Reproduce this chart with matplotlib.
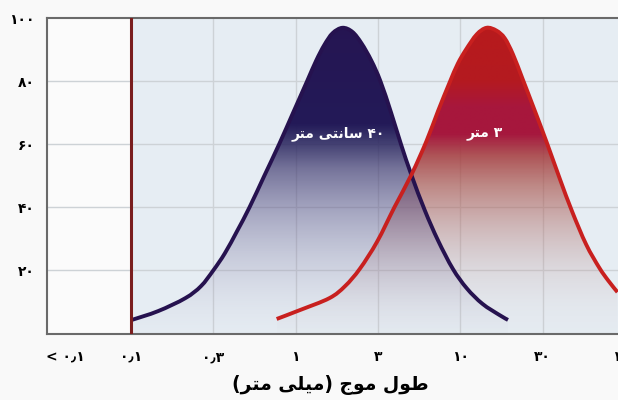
import numpy as np
import matplotlib
matplotlib.use("Agg")
from matplotlib import pyplot as plt
from matplotlib.colors import to_rgb
from matplotlib.path import Path
from matplotlib.patches import PathPatch

# x positions are category slots: 1 = 0.1 mm, 2 = 0.3 mm, 3 = 1 mm, ... 7 = 100 mm
x_labels = ["< \u06f0\u066b\u06f1", "\u06f0\u066b\u06f1", "\u06f0\u066b\u06f3", "\u06f1", "\u06f3",
            "\u06f1\u06f0", "\u06f3\u06f0", "\u06f1\u06f0\u06f0"]
y_ticks = [20, 40, 60, 80, 100]
y_labels = ["\u06f2\u06f0", "\u06f4\u06f0", "\u06f6\u06f0", "\u06f8\u06f0", "\u06f1\u06f0\u06f0"]

# 40 cm wave
blue_x = [1.01, 1.33, 1.66, 1.85, 2.00, 2.14, 2.29, 2.44, 2.62, 2.80, 2.97, 3.14, 3.25, 3.35, 3.45,
          3.57, 3.69, 3.80, 3.92, 4.03, 4.16, 4.28, 4.41, 4.57, 4.73, 4.91, 5.08, 5.27, 5.48, 5.58]
blue_y = [4.3, 7.1, 11.2, 15.0, 20.0, 25.4, 32.5, 40.0, 50.0, 60.0, 70.0, 80.0, 86.5, 91.5, 95.2,
          96.9, 95.6, 92.0, 86.5, 80.0, 70.0, 60.0, 50.0, 39.0, 29.5, 20.5, 14.3, 9.4, 5.8, 4.3]
# 3 m wave
red_x = [2.77, 3.05, 3.41, 3.60, 3.78, 3.99, 4.20, 4.41, 4.59, 4.73, 4.87, 4.97, 5.07, 5.20, 5.32,
         5.44, 5.54, 5.64, 5.76, 5.90, 6.05, 6.21, 6.36, 6.53, 6.69, 6.80, 6.91]
red_y = [4.6, 7.4, 11.2, 15.0, 20.5, 29.1, 40.0, 50.5, 61.0, 70.5, 79.5, 85.5, 90.0, 94.8, 96.9,
         96.0, 93.6, 88.5, 80.5, 71.0, 60.6, 49.0, 38.6, 28.2, 20.8, 16.7, 13.1]

label_blue = "\ufeae\ufe98\ufee3 \ufef0\ufe98\ufee7\ufe8e\ufeb3 \u06f4\u06f0"
label_red = "\ufeae\ufe98\ufee3 \u06f3"
x_title = "(\ufeae\ufe98\ufee3 \ufef0\ufee0\ufef4\ufee3) \ufe9d\ufeee\ufee3 \ufedd\ufeee\ufec3"

plt.rcParams["font.family"] = ["DejaVu Sans"]


def smooth_path(xs, ys, closed_to_base=False):
    # catmull-rom through the read points, drawn as bezier segments
    p = np.column_stack([xs, ys])
    ext = np.vstack([p[0], p, p[-1]])
    verts = [p[0]]
    codes = [Path.MOVETO]
    for i in range(len(p) - 1):
        p0, p1, p2, p3 = ext[i], ext[i + 1], ext[i + 2], ext[i + 3]
        verts += [p1 + (p2 - p0) / 6, p2 - (p3 - p1) / 6, p2]
        codes += [Path.CURVE4] * 3
    if closed_to_base:
        verts += [(xs[-1], 0), (xs[0], 0), p[0]]
        codes += [Path.LINETO, Path.LINETO, Path.CLOSEPOLY]
    return Path(np.array(verts), codes)


def gradient(stops, n=300):
    vs = np.linspace(0, 100, n)
    sv = [s[0] for s in stops]
    cols = np.array([to_rgb(s[1]) for s in stops])
    al = [s[2] for s in stops]
    img = np.zeros((n, 1, 4))
    for k in range(3):
        img[:, 0, k] = np.interp(vs, sv, cols[:, k])
    img[:, 0, 3] = np.interp(vs, sv, al)
    return img


fig = plt.figure(figsize=(6.18, 4.0), dpi=100, facecolor="#f9f9f9")
ax = fig.add_axes([47/618, 66.5/400, 582/618, 315.5/400])
ax.set_facecolor("#fbfbfb")
ax.set_xlim(-0.02, 7.05)
ax.set_ylim(0, 100)
ax.axvspan(1, 7.05, color="#e6edf3", zorder=0, lw=0)

for v in y_ticks[:-1]:
    ax.axhline(v, color="#cdd2d6", lw=1, zorder=1)
for u in range(2, 8):
    ax.axvline(u, color="#cdd2d6", lw=1, zorder=1)

red_stops = [(0, "#c8b8bc", 0.03), (8, "#c4a8aa", 0.08), (20, "#b89090", 0.22), (35, "#b06c66", 0.45),
             (47, "#a85048", 0.65), (56, "#a43a3c", 0.85), (63, "#a6173e", 1.0), (72, "#a8173c", 1.0),
             (80, "#b41a20", 1.0), (100, "#b81a1c", 1.0)]
blue_stops = [(0, "#b8b8d0", 0.03), (10, "#9c98b8", 0.12), (25, "#7c76a0", 0.3), (40, "#5c5688", 0.5),
              (52, "#403a70", 0.68), (60, "#2c2860", 0.88), (66, "#231a58", 1.0), (100, "#261552", 1.0)]

for xs, ys, stops, z in [(red_x, red_y, red_stops, 2), (blue_x, blue_y, blue_stops, 3)]:
    area = PathPatch(smooth_path(xs, ys, True), facecolor="none", edgecolor="none",
                     transform=ax.transData)
    ax.add_patch(area)
    im = ax.imshow(gradient(stops), extent=(min(xs), max(xs), 0, 100), origin="lower",
                   aspect="auto", interpolation="bilinear", zorder=z)
    im.set_clip_path(area)

ax.add_patch(PathPatch(smooth_path(blue_x, blue_y), fill=False, edgecolor="#26124f", lw=2.8,
                       zorder=4, capstyle="butt"))
ax.add_patch(PathPatch(smooth_path(red_x, red_y), fill=False, edgecolor="#c8201f", lw=2.8,
                       zorder=5, capstyle="butt"))
ax.axvline(1, color="#7a1e1e", lw=2.2, zorder=6)

ax.text(3.52, 63.5, label_blue, color="white", fontsize=10, fontweight="bold",
        ha="center", va="center", zorder=7)
ax.text(5.30, 63.5, label_red, color="white", fontsize=10, fontweight="bold",
        ha="center", va="center", zorder=7)

ax.set_xticks([0.2, 1, 2, 3, 4, 5, 6, 7])
ax.set_xticklabels(x_labels, fontsize=10, fontweight="bold")
ax.set_yticks(y_ticks)
ax.set_yticklabels(y_labels, fontsize=10, fontweight="bold")
ax.tick_params(axis="y", length=0, pad=9)
ax.tick_params(axis="x", length=0, pad=12)
for s in ["left", "bottom", "top"]:
    ax.spines[s].set_color("#6a6a6a")
    ax.spines[s].set_linewidth(1.5)
ax.spines["right"].set_visible(False)

fig.text(330/618, 1 - 385/400, x_title, fontsize=13.5, fontweight="bold", ha="center", va="center")

fig.savefig("out.png", dpi=100, facecolor=fig.get_facecolor())
